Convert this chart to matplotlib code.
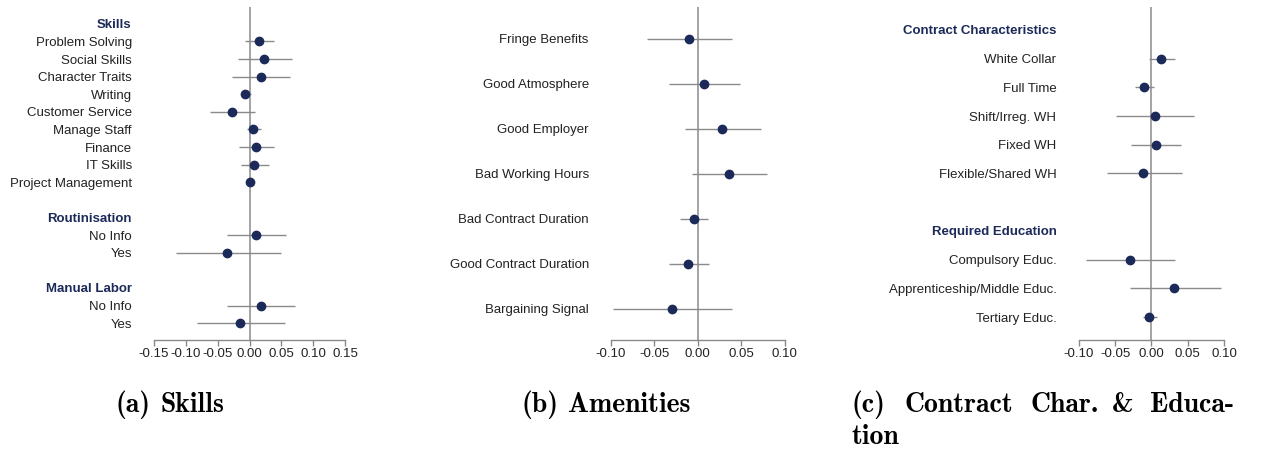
import os
import numpy as np
import matplotlib
matplotlib.use("Agg")
import matplotlib.pyplot as plt
from matplotlib.font_manager import FontProperties

plt.rcParams['font.family'] = ['Liberation Sans', 'DejaVu Sans']

nan = np.nan

# panel a: Skills
a_labels = ['Skills', 'Problem Solving', 'Social Skills', 'Character Traits', 'Writing',
            'Customer Service', 'Manage Staff', 'Finance', 'IT Skills', 'Project Management',
            '', 'Routinisation', 'No Info', 'Yes', '', 'Manual Labor', 'No Info', 'Yes']
a_header = ['Skills', 'Routinisation', 'Manual Labor']
a_coef = [nan, 0.0144, 0.0228, 0.0175, -0.0066, -0.028, 0.006, 0.0097, 0.0075, 0.001,
          nan, nan, 0.0097, -0.035, nan, nan, 0.0175, -0.0154]
a_lo = [nan, -0.0066, -0.0186, -0.0275, -0.011, -0.062, -0.0035, -0.0165, -0.013, -0.0035,
        nan, nan, -0.036, -0.116, nan, nan, -0.036, -0.083]
a_hi = [nan, 0.0385, 0.0667, 0.063, 0.002, 0.008, 0.0185, 0.0385, 0.030, 0.0045,
        nan, nan, 0.058, 0.049, nan, nan, 0.072, 0.0557]
a_ticks = [-0.15, -0.10, -0.05, 0.00, 0.05, 0.10, 0.15]

# panel b: Amenities
b_labels = ['Fringe Benefits', 'Good Atmosphere', 'Good Employer', 'Bad Working Hours',
            'Bad Contract Duration', 'Good Contract Duration', 'Bargaining Signal']
b_header = []
b_coef = [-0.0104, 0.0069, 0.028, 0.0364, -0.005, -0.011, -0.0296]
b_lo = [-0.058, -0.033, -0.0146, -0.0062, -0.0203, -0.033, -0.098]
b_hi = [0.039, 0.048, 0.0725, 0.0798, 0.0115, 0.0127, 0.0397]
b_ticks = [-0.10, -0.05, 0.00, 0.05, 0.10]

# panel c: Contract Char. & Education
c_labels = ['Contract Characteristics', 'White Collar', 'Full Time', 'Shift/Irreg. WH',
            'Fixed WH', 'Flexible/Shared WH', '', 'Required Education', 'Compulsory Educ.',
            'Apprenticeship/Middle Educ.', 'Tertiary Educ.']
c_header = ['Contract Characteristics', 'Required Education']
c_coef = [nan, 0.0129, -0.010, 0.0046, 0.0064, -0.011, nan, nan, -0.029, 0.0317, -0.0028]
c_lo = [nan, -0.0036, -0.022, -0.0486, -0.028, -0.061, nan, nan, -0.0894, -0.030, -0.011]
c_hi = [nan, 0.032, 0.0037, 0.0587, 0.041, 0.0418, nan, nan, 0.032, 0.0955, 0.0074]
c_ticks = [-0.10, -0.05, 0.00, 0.05, 0.10]

navy = '#1c2a59'
grey = '#8a8a8a'


def tegn_panel(ax, labels, headers, coef, lo, hi, ticks, pad_rows):
    rows = np.arange(len(labels))
    ax.axvline(0, color=grey, lw=1.1, zorder=1)
    ax.hlines(rows, lo, hi, color=grey, lw=1.0, zorder=2)
    ax.plot(coef, rows, 'o', color=navy, ms=6, zorder=3)
    ax.set_xlim(ticks[0], ticks[-1])
    ax.set_ylim(len(labels) - 1 + pad_rows, -pad_rows)
    ax.set_yticks(rows)
    ax.set_yticklabels(labels)
    for t in ax.get_yticklabels():
        if t.get_text() in headers:
            t.set_fontweight('bold')
            t.set_color(navy)
            t.set_fontsize(8.4)
        else:
            t.set_color('#222222')
    ax.tick_params(axis='y', length=0, pad=16, labelsize=9.5)
    ax.set_xticks(ticks)
    ax.set_xticklabels([f'{t:.2f}' for t in ticks])
    ax.tick_params(axis='x', length=4, width=1, color=grey, labelsize=9.5,
                   labelcolor='#222222', pad=2)
    for s in ['top', 'right', 'left']:
        ax.spines[s].set_visible(False)
    ax.spines['bottom'].set_color(grey)
    ax.spines['bottom'].set_linewidth(1.0)


fig = plt.figure(figsize=(12.7, 4.49), dpi=100)
W, H = 1270, 449
top, bottom = 7, 340


def lag_akse(x0, x1):
    return fig.add_axes([x0 / W, 1 - bottom / H, (x1 - x0) / W, (bottom - top) / H])


ax1 = lag_akse(154, 345)
tegn_panel(ax1, a_labels, a_header, a_coef, a_lo, a_hi, a_ticks, 0.96)
ax2 = lag_akse(611, 784.7)
tegn_panel(ax2, b_labels, b_header, b_coef, b_lo, b_hi, b_ticks, 0.7)
ax3 = lag_akse(1078.7, 1224)
tegn_panel(ax3, c_labels, c_header, c_coef, c_lo, c_hi, c_ticks, 0.8)

# undertekster i Computer Modern fet, ord for ord (LaTeX-justert linje)
cm_fil = os.path.join(matplotlib.get_data_path(), 'fonts', 'ttf', 'cmb10.ttf')
cap = FontProperties(fname=cm_fil, size=20)
ord_linje = [
    (115, 405, '(a)'), (160, 405, 'Skills'),
    (521, 405, '(b)'), (568, 405, 'Amenities'),
    (851, 405, '(c)'), (905, 405, 'Contract'), (1030, 405, 'Char.'),
    (1112, 405, '&'), (1150, 405, 'Educa-'),
    (851, 437, 'tion'),
]
for x, y, tekst in ord_linje:
    fig.text(x / W, 1 - y / H, tekst, fontproperties=cap, va='center', ha='left')

fig.savefig('out.png', dpi=100)
